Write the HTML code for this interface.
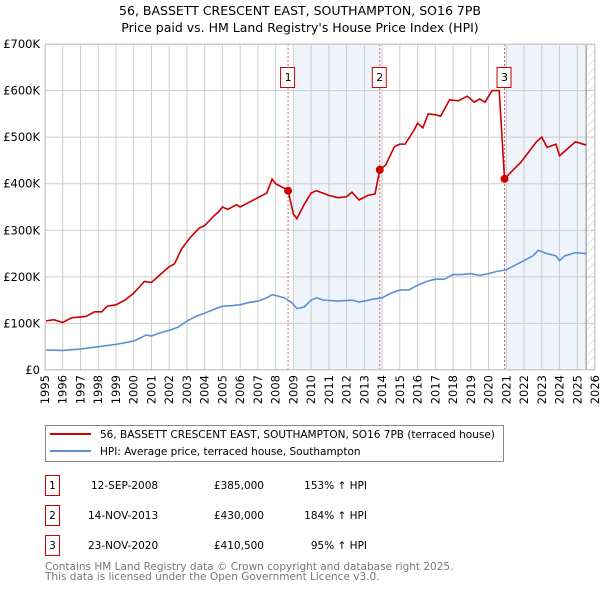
<!DOCTYPE html>
<html><head><meta charset="utf-8"><style>
body{margin:0;background:#fff;font-family:"DejaVu Sans","Liberation Sans",sans-serif;}
svg text{font-family:"DejaVu Sans","Liberation Sans",sans-serif;}
</style></head><body>
<svg id="c" width="600" height="590" xmlns="http://www.w3.org/2000/svg">
<defs><pattern id="hatch" width="6" height="6" patternUnits="userSpaceOnUse" patternTransform="rotate(45)"><line x1="0" y1="0" x2="0" y2="6" stroke="#ccc" stroke-width="1"/></pattern></defs>
<text x="300" y="15" text-anchor="middle" font-size="12.5">56, BASSETT CRESCENT EAST, SOUTHAMPTON, SO16 7PB</text>
<text x="300" y="32" text-anchor="middle" font-size="12.5">Price paid vs. HM Land Registry's House Price Index (HPI)</text>
<g id="plot"></g>
<g>
<rect x="45.5" y="425.5" width="458" height="36" fill="#fff" stroke="#888"/>
<line x1="50" y1="434" x2="91" y2="434" stroke="#cc0000" stroke-width="2"/>
<text x="100" y="438" font-size="10.5">56, BASSETT CRESCENT EAST, SOUTHAMPTON, SO16 7PB (terraced house)</text>
<line x1="50" y1="451" x2="91" y2="451" stroke="#5b8fd4" stroke-width="2"/>
<text x="100" y="455" font-size="10.5">HPI: Average price, terraced house, Southampton</text>
</g>
<g font-size="10.5">
<rect x="45.5" y="475.5" width="14" height="20" fill="#fff" stroke="#cc0000"/><text x="52.5" y="489" text-anchor="middle">1</text>
<text x="91" y="489">12-SEP-2008</text><text x="264" y="489" text-anchor="end">£385,000</text><text x="367" y="489" text-anchor="end">153% ↑ HPI</text>
<rect x="45.5" y="505.5" width="14" height="20" fill="#fff" stroke="#cc0000"/><text x="52.5" y="519" text-anchor="middle">2</text>
<text x="88" y="519">14-NOV-2013</text><text x="264" y="519" text-anchor="end">£430,000</text><text x="367" y="519" text-anchor="end">184% ↑ HPI</text>
<rect x="45.5" y="535.5" width="14" height="20" fill="#fff" stroke="#cc0000"/><text x="52.5" y="549" text-anchor="middle">3</text>
<text x="88" y="549">23-NOV-2020</text><text x="264" y="549" text-anchor="end">£410,500</text><text x="367" y="549" text-anchor="end">95% ↑ HPI</text>
</g>
<text x="45" y="570" font-size="10.5" fill="#777">Contains HM Land Registry data © Crown copyright and database right 2025.</text>
<text x="45" y="580" font-size="10.5" fill="#777">This data is licensed under the Open Government Licence v3.0.</text>
</svg>
<script>
const yTicks=[0,100,200,300,400,500,600,700];
const yTickLabels=["£0","£100K","£200K","£300K","£400K","£500K","£600K","£700K"];
const years=[1995,1996,1997,1998,1999,2000,2001,2002,2003,2004,2005,2006,2007,2008,2009,2010,2011,2012,2013,2014,2015,2016,2017,2018,2019,2020,2021,2022,2023,2024,2025,2026];
const saleDates=[2008.7,2013.87,2020.9];
const salePrices=[385,430,410.5];
const saleLabels=["1","2","3"];
const propT=[1995,1995.5,1996,1996.5,1997.3,1997.8,1998.2,1998.5,1999,1999.5,2000,2000.6,2001,2001.5,2002,2002.3,2002.7,2003.2,2003.7,2004,2004.5,2004.8,2005,2005.3,2005.8,2006,2006.5,2007,2007.5,2007.8,2008,2008.5,2008.7,2009,2009.2,2009.6,2010,2010.3,2011,2011.5,2012,2012.3,2012.7,2013.2,2013.6,2013.87,2014.2,2014.7,2015,2015.3,2015.8,2016,2016.3,2016.6,2017,2017.3,2017.8,2018.3,2018.8,2019.2,2019.5,2019.8,2020.2,2020.6,2020.9,2021.4,2021.8,2022.3,2022.7,2023,2023.3,2023.8,2024,2024.3,2024.9,2025.5];
const propV=[105,108,102,112,115,125,125,137,140,150,165,190,188,205,222,228,260,285,305,310,330,340,350,345,355,350,360,370,380,410,400,390,385,335,325,355,380,385,375,370,372,382,365,375,378,430,440,480,485,485,515,530,520,550,548,545,580,578,588,575,582,575,600,600,410.5,430,445,470,490,500,478,485,460,470,490,483];
const hpiT=[1995,1996,1997,1998,1999,2000,2000.7,2001,2001.5,2002,2002.5,2003,2003.5,2004,2004.5,2005,2005.5,2006,2006.5,2007,2007.5,2007.8,2008.5,2008.9,2009.2,2009.6,2010,2010.3,2010.7,2011.5,2012.3,2012.7,2013.5,2014,2014.5,2015,2015.5,2016,2016.5,2017,2017.5,2018,2018.5,2019,2019.5,2020,2020.5,2021,2021.5,2022,2022.5,2022.8,2023.3,2023.8,2024,2024.3,2024.9,2025.5];
const hpiV=[43,42,45,50,55,62,75,73,80,85,92,105,115,122,130,137,138,140,145,148,155,162,155,145,132,135,150,155,150,148,150,146,152,155,165,172,172,182,190,195,195,205,205,207,203,207,212,215,225,235,245,257,250,245,235,245,252,250];
const X0=45,X1=595,Y0=370,Y1=44;
const xs=t=>X0+(t-1995)/(2026-1995)*(X1-X0);
const ys=v=>Y0-v/700*(Y0-Y1);
const NS="http://www.w3.org/2000/svg";
const g=document.getElementById('plot');
function mk(tag,attrs,parent){const e=document.createElementNS(NS,tag);for(const k in attrs)e.setAttribute(k,attrs[k]);(parent||g).appendChild(e);return e;}
// shading
let s=mk('rect',{x:xs(2009),y:Y1,width:xs(saleDates[1])-xs(2009),height:Y0-Y1,fill:'#eef3fc'});


s=mk('rect',{x:xs(saleDates[2]),y:Y1,width:xs(2025.5)-xs(saleDates[2]),height:Y0-Y1,fill:'#eef3fc'});


s=mk('rect',{x:xs(2025.5),y:Y1,width:X1-xs(2025.5),height:Y0-Y1,fill:'url(#hatch)'});


// grid
years.forEach(y=>{mk('line',{x1:xs(y),x2:xs(y),y1:Y1,y2:Y0,stroke:'#ccc','stroke-width':1});
 const t=mk('text',{x:0,y:0,'font-size':11.5,'text-anchor':'end',transform:`translate(${xs(y)+4},${Y0+5}) rotate(-90)`});t.textContent=y;
 
 });
yTicks.forEach((v,i)=>{mk('line',{x1:X0,x2:X1,y1:ys(v),y2:ys(v),stroke:'#ccc','stroke-width':1});
 const t=mk('text',{x:40,y:ys(v)+4,'font-size':11.5,'text-anchor':'end'});t.textContent=yTickLabels[i];
 
 });
mk('line',{x1:xs(2025.5),x2:xs(2025.5),y1:Y1,y2:Y0,stroke:'#888','stroke-width':1});
// sale lines
saleDates.forEach((d,i)=>{const l=mk('line',{x1:xs(d),x2:xs(d),y1:Y1,y2:Y0,stroke:'#e06060','stroke-width':1,'stroke-dasharray':'2,2'});
 
 
 const b=mk('rect',{x:xs(d)-7.5,y:67.5,width:14,height:20,fill:'#fff',stroke:'#cc0000'});
 
 
 const t=mk('text',{x:xs(d),y:81,'font-size':11,'text-anchor':'middle'});t.textContent=saleLabels[i];});
const line=(T,V,c,n)=>{const p=mk('polyline',{points:T.map((t,i)=>xs(t)+','+ys(V[i])).join(' '),fill:'none',stroke:c,'stroke-width':1.6});
 
 };
line(hpiT,hpiV,'#5b8fd4','hpi-line');
line(propT,propV,'#cc0000','property-price-line');
saleDates.forEach((d,i)=>{const c=mk('circle',{cx:xs(d),cy:ys(salePrices[i]),r:4,fill:'#cc0000'});
 
 });
mk('rect',{x:X0+.5,y:Y1+.5,width:X1-X0-1,height:Y0-Y1-1,fill:'none',stroke:'#ccc'});
</script>
</body></html>
